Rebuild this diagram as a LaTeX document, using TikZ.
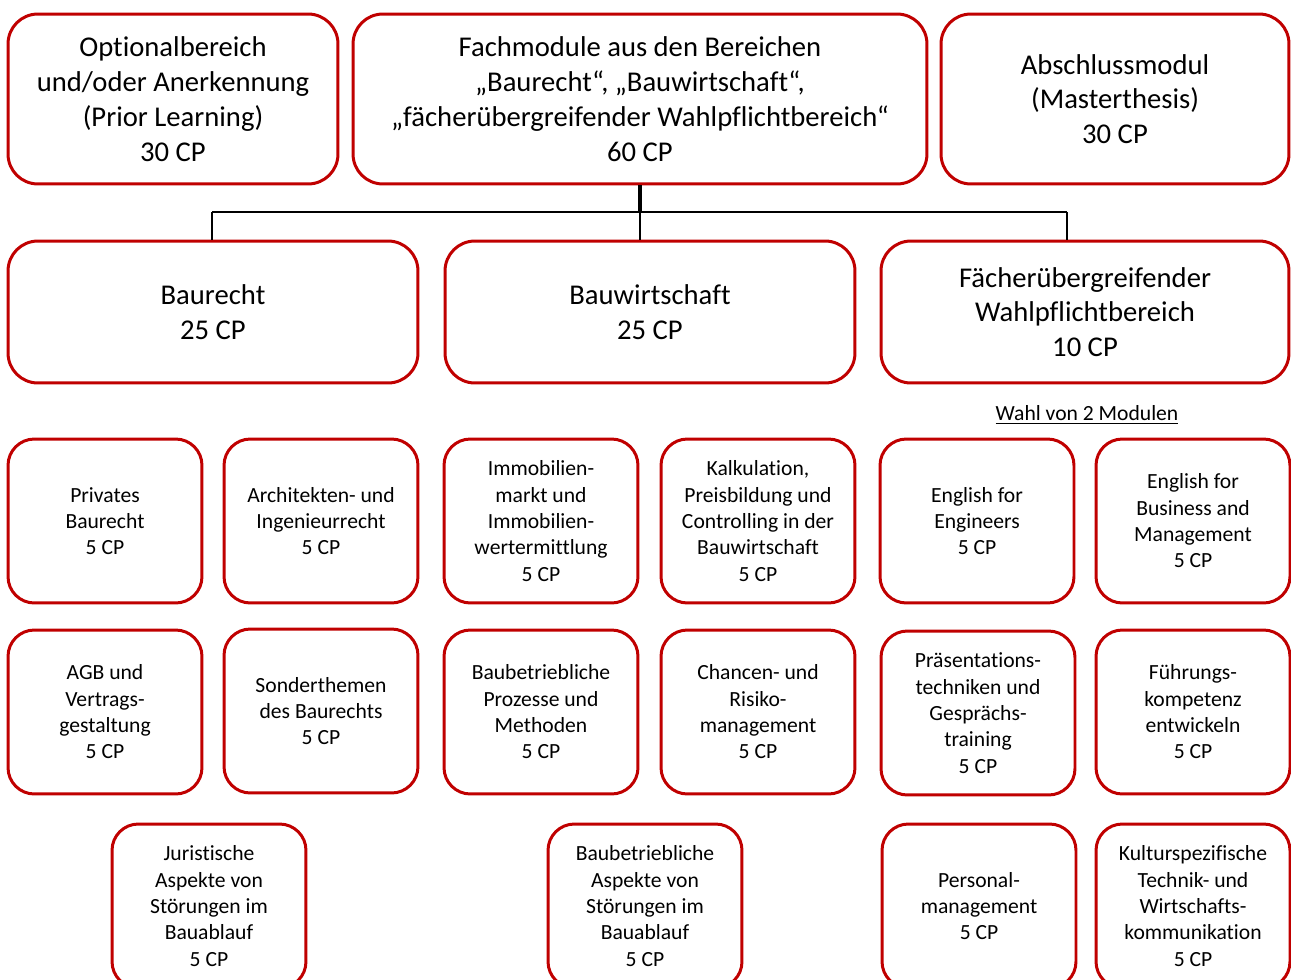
\documentclass[tikz,border=0pt]{standalone}
\usepackage{fontspec}
\setmainfont{Carlito}[Ligatures=NoCommon]
\definecolor{modred}{HTML}{C00000}
\usetikzlibrary{calc}
\tikzset{
  modbox/.style   = {draw=modred,line width=1.7pt,fill=white,align=center,
                     inner sep=2pt},
  modbig/.style   = {modbox,rounded corners=17pt,
                     font=\fontsize{16.3}{19.8}\selectfont},
  modsmall/.style = {modbox,rounded corners=15pt,minimum width=3.88cm,
                     minimum height=3.28cm,font=\fontsize{12.3}{15}\selectfont},
  note/.style     = {font=\fontsize{12.3}{15}\selectfont,inner sep=1pt},
  link/.style     = {draw=black,line width=1.5pt},
}

\begin{document}
\begin{tikzpicture}[x=0.02cm,y=-0.02cm]
  \useasboundingbox (0,0) rectangle (1291,980);
  \clip (0,0) rectangle (1291,980);

  % oberste Ebene
  \node[modbig,minimum width=6.6cm,minimum height=3.4cm] (opt) at (173,99)
    {Optionalbereich\\und/oder Anerkennung\\(Prior Learning)\\30 CP};
  \node[modbig,minimum width=11.48cm,minimum height=3.4cm] (fach) at (640,99)
    {Fachmodule aus den Bereichen\\„Baurecht“, „Bauwirtschaft“,\\„fächerübergreifender Wahlpflichtbereich“\\60 CP};
  \node[modbig,minimum width=6.96cm,minimum height=3.4cm] (absch) at (1115,99)
    {Abschlussmodul\\(Masterthesis)\\30 CP};

  % Bereiche
  \node[modbig,minimum width=8.2cm,minimum height=2.84cm] (recht) at (213,312)
    {Baurecht\\25 CP};
  \node[modbig,minimum width=8.2cm,minimum height=2.84cm] (wirt) at (650,312)
    {Bauwirtschaft\\25 CP};
  \node[modbig,minimum width=8.16cm,minimum height=2.84cm] (wpf) at (1085,312)
    {Fächerübergreifender\\Wahlpflichtbereich\\10 CP};

  \coordinate (hub) at (640,212);
  \coordinate (jl) at (212,212);
  \coordinate (jr) at (1067,212);
  \draw[link,line width=2.2pt] (fach.south) -- (hub);
  \draw[link] (jl) -- (jr);
  \draw[link] (jl) -- (jl |- recht.north);
  \draw[link] (hub) -- (hub |- wirt.north);
  \draw[link] (jr) -- (jr |- wpf.north);

  \node[note] (wahl) at (1087,415) {\underline{Wahl von 2 Modulen}};

  % Module, Reihe 1
  \node[modsmall] (priv) at (105,521) {Privates\\Baurecht\\5 CP};
  \node[modsmall] (arch) at (321,521) {Architekten- und\\Ingenieurrecht\\5 CP};
  \node[modsmall] (immo) at (541,521) {Immobilien-\\markt und\\Immobilien-\\wertermittlung\\5 CP};
  \node[modsmall] (kalk) at (758,521) {Kalkulation,\\Preisbildung und\\Controlling in der\\Bauwirtschaft\\5 CP};
  \node[modsmall] (engi) at (977,521) {English for\\Engineers\\5 CP};
  \node[modsmall] (busi) at (1193,521) {English for\\Business and\\Management\\5 CP};

  % Module, Reihe 2
  \node[modsmall] (agb) at (105,712) {AGB und\\Vertrags-\\gestaltung\\5 CP};
  \node[modsmall] (sond) at (321,711) {Sonderthemen\\des Baurechts\\5 CP};
  \node[modsmall] (proz) at (541,712) {Baubetriebliche\\Prozesse und\\Methoden\\5 CP};
  \node[modsmall] (risk) at (758,712) {Chancen- und\\Risiko-\\management\\5 CP};
  \node[modsmall] (praes) at (978,713) {Präsentations-\\techniken und\\Gesprächs-\\training\\5 CP};
  \node[modsmall] (fuehr) at (1193,712) {Führungs-\\kompetenz\\entwickeln\\5 CP};

  % Module, Reihe 3
  \node[modsmall] (jur) at (209,906) {Juristische\\Aspekte von\\Störungen im\\Bauablauf\\5 CP};
  \node[modsmall] (stoer) at (645,906) {Baubetriebliche\\Aspekte von\\Störungen im\\Bauablauf\\5 CP};
  \node[modsmall] (pers) at (979,906) {Personal-\\management\\5 CP};
  \node[modsmall] (kult) at (1193,906) {Kulturspezifische\\Technik- und\\Wirtschafts-\\kommunikation\\5 CP};
\end{tikzpicture}
\end{document}
